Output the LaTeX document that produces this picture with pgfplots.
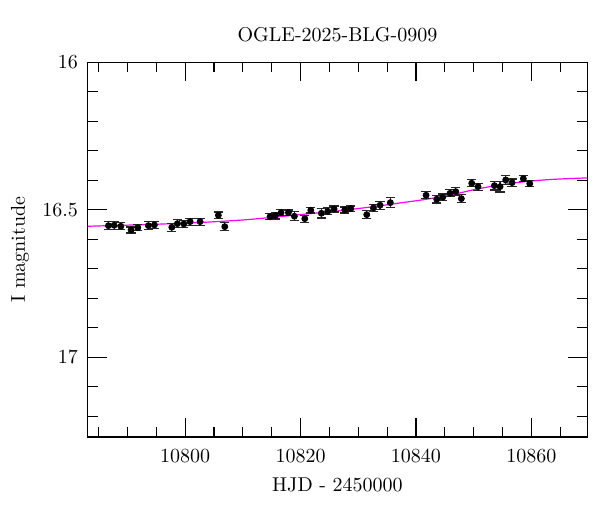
\documentclass[border=0pt]{standalone}
\usepackage{pgfplots}
\usepackage{pgfplotstable}
\pgfplotsset{compat=1.18}
\definecolor{modelmag}{RGB}{255,0,255}

% photometry: HJD-2450000, I mag, error
\pgfplotstableread{
x        y       e
10786.69 16.5539 0.014
10787.68 16.5525 0.014
10788.84 16.5559 0.012
10790.62 16.5685 0.010
10791.79 16.5607 0.010
10793.62 16.5539 0.013
10794.66 16.5515 0.011
10797.68 16.5593 0.014
10798.65 16.5471 0.014
10799.76 16.5481 0.013
10800.85 16.5403 0.012
10802.58 16.5403 0.012
10805.75 16.5186 0.011
10806.86 16.5573 0.013
10814.71 16.5234 0.010
10815.63 16.5200 0.011
10816.62 16.5098 0.010
10817.89 16.5098 0.009
10818.93 16.5220 0.015
10820.73 16.5302 0.012
10821.77 16.5017 0.009
10823.60 16.5119 0.016
10824.71 16.5051 0.012
10825.81 16.4973 0.010
10827.66 16.5007 0.010
10828.70 16.4963 0.009
10831.47 16.5166 0.013
10832.62 16.4939 0.013
10833.78 16.4847 0.014
10835.56 16.4759 0.017
10841.75 16.4508 0.012
10843.60 16.4644 0.013
10844.64 16.4576 0.011
10845.91 16.4441 0.012
10846.90 16.4386 0.013
10847.87 16.4624 0.013
10849.67 16.4102 0.012
10850.76 16.4217 0.012
10853.59 16.4183 0.015
10854.58 16.4217 0.018
10855.56 16.3990 0.015
10856.66 16.4081 0.012
10858.61 16.3946 0.011
10859.72 16.4115 0.011
}\phot

% model curve
\pgfplotstableread{
x        y
10783.14 16.5559
10793.92 16.5498
10802.58 16.5431
10809.52 16.5353
10815.29 16.5254
10821.08 16.5142
10826.85 16.5031
10832.62 16.4895
10837.25 16.4769
10841.58 16.4651
10845.91 16.4505
10850.24 16.4312
10854.58 16.4159
10858.91 16.4047
10863.24 16.3976
10867.57 16.3936
10870.17 16.3919
}\model

\begin{document}
\begin{tikzpicture}
\path[use as bounding box] (-43.85pt,-37.5pt) rectangle (256.15pt,218.5pt);
\begin{axis}[
  at={(0,0)}, anchor=south west,
  scale only axis, width=249.8pt, height=187.4pt,
  xmin=10783.1, xmax=10869.7,
  ymin=16, ymax=17.27, y dir=reverse,
  xtick={10800,10820,10840,10860},
  minor xtick={10785,10790,10795,10805,10810,10815,10825,10830,10835,10845,10850,10855,10865},
  ytick={16,16.5,17},
  minor ytick={16.1,16.2,16.3,16.4,16.6,16.7,16.8,16.9,17.1,17.2},
  scaled x ticks=false, scaled y ticks=false,
  tick align=inside, tick pos=both,
  xticklabel pos=bottom, yticklabel pos=left,
  major tick length=9.5pt, minor tick length=5pt,
  tick style={black, line width=0.6pt},
  axis line style={line width=0.6pt},
  xticklabel style={/pgf/number format/fixed, /pgf/number format/precision=0,
    /pgf/number format/1000 sep={}, yshift=-3pt},
  yticklabel style={xshift=-1.4pt},
  every axis title shift=0pt,
  title={OGLE-2025-BLG-0909},
  title style={at={(axis description cs:0.5,1.0728)}, anchor=center},
  xlabel={HJD - 2450000},
  xlabel style={at={(axis description cs:0.5,-0.1273)}, anchor=center},
  ylabel={I magnitude},
  ylabel style={at={(axis description cs:-0.1355,0.5)}, anchor=center, rotate=0},
]
\addplot[modelmag, line width=0.6pt, no marks, smooth] table[x=x, y=y] {\model};
\addplot[black, only marks, mark=*, mark size=1.5pt,
  error bars/.cd, y dir=both, y explicit,
  error bar style={line width=0.6pt, black!85},
  error mark options={rotate=90, mark size=2.3pt, line width=0.6pt, black!85}]
  table[x=x, y=y, y error=e] {\phot};
\end{axis}
\end{tikzpicture}
\end{document}
